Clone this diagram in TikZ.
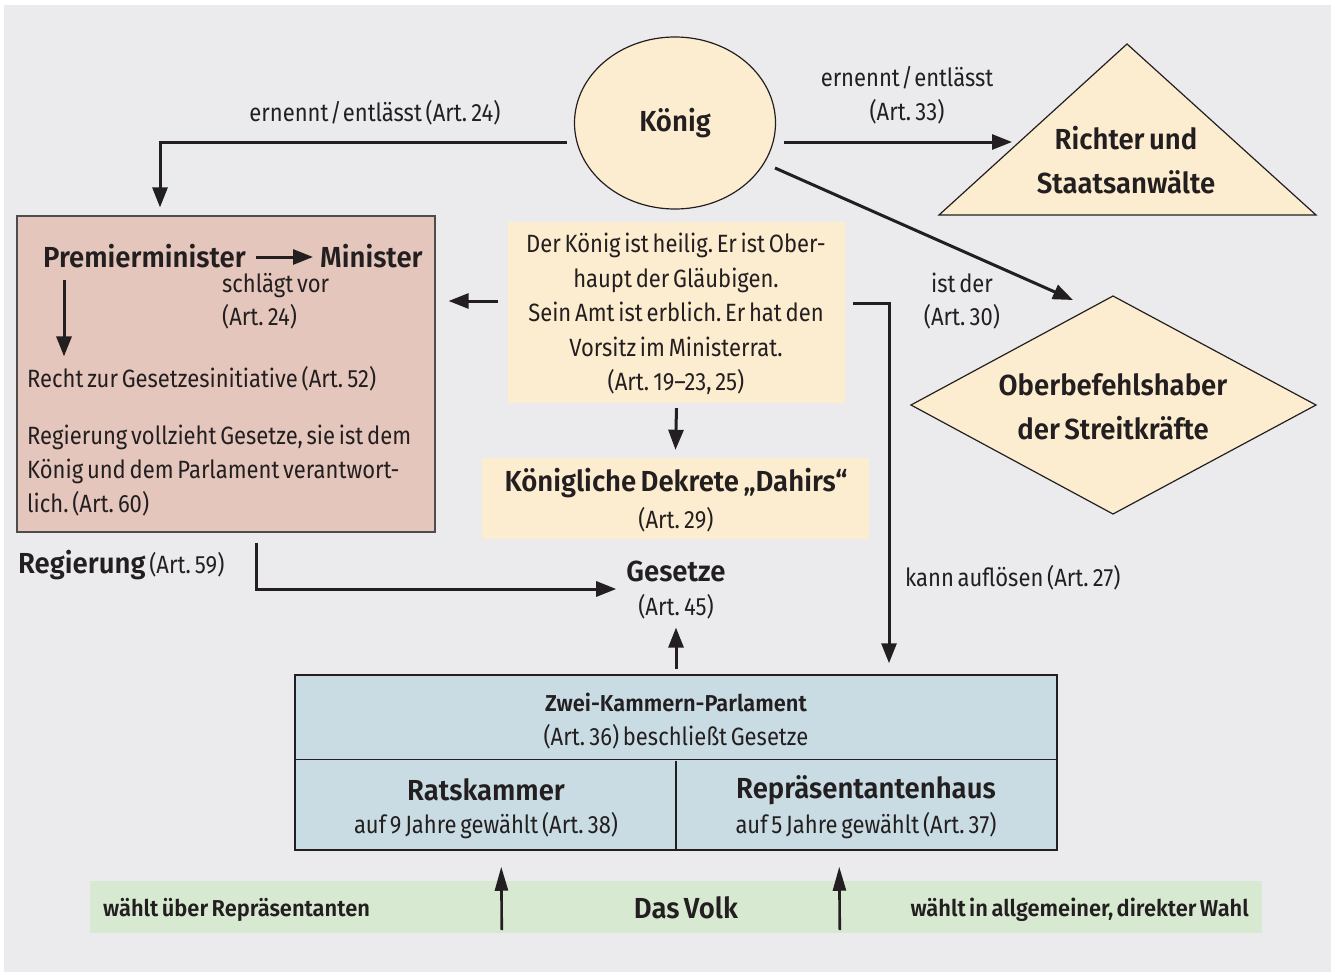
\documentclass[tikz,border=0pt]{standalone}
\usepackage{fontspec}
\setmainfont{Fira Sans}[FakeStretch=0.88, WordSpace=0.65, BoldFont={Fira Sans SemiBold}, BoldFeatures={FakeStretch=0.95}]
\usetikzlibrary{arrows.meta,calc,shapes.geometric}
\definecolor{bg}{HTML}{EBEBED}
\definecolor{ink}{HTML}{231F20}
\definecolor{cream}{HTML}{FDEDD0}
\definecolor{pinkbox}{HTML}{E5C6BC}
\definecolor{bluebox}{HTML}{C9DCE3}
\definecolor{greenband}{HTML}{D8E9D2}
\frenchspacing
\newcommand\ftreg{\fontsize{25}{34.5}\selectfont}
\newcommand\ftbold{\fontsize{29}{44}\selectfont\bfseries}
\newcommand\ftking{\fontsize{29}{36}\selectfont\bfseries}
\newcommand\slsh{\kern1.5pt/\kern1.5pt}
\tikzset{
  txt/.style={inner sep=0pt, text=ink, font=\ftreg},
  arr/.style={draw=ink, line width=3pt, -{Triangle[length=20pt,width=15pt]}},
  uparr/.style={draw=ink, line width=2.6pt, -{Triangle[length=24pt,width=13pt]}},
  shapeline/.style={draw=ink, line width=1.2pt, fill=cream},
}
\begin{document}
\begin{tikzpicture}[x=1pt,y=-1pt]
\useasboundingbox (0,0) rectangle (1335,974);
\fill[bg] (4,5) rectangle (1331,972);

% King
\node[ellipse, shapeline, minimum width=201pt, minimum height=172pt, inner sep=0pt, text=ink, font=\ftking] (koenig) at (675,123) {König};

% Triangle
\draw[shapeline] (1127,44) -- (1316,215) -- (939,215) -- cycle;
\coordinate (triL) at (1012,142);
\node[txt, font=\ftbold, align=center] (richter) at (1126,160) {Richter und\\Staatsanwälte};

% Diamond
\draw[shapeline] (1113,296) -- (1316,405) -- (1113,514) -- (911,405) -- cycle;
\coordinate (diaTop) at (1113,296);
\node[txt, font=\ftbold, align=center] (ober) at (1113,407) {Oberbefehlshaber\\der Streitkräfte};

% Regierung box
\node[draw=ink!80, line width=1.2pt, fill=pinkbox, minimum width=418pt, minimum height=316pt, inner sep=0pt] (reg) at (226,374) {};
\node[txt, font=\ftbold, anchor=base west] (pm) at (43,267) {Premierminister};
\node[txt, font=\ftbold, anchor=base west] (mini) at (320,267) {Minister};
\node[txt, anchor=north west, align=left, font=\fontsize{25}{33}\selectfont] (schlaegt) at (222,273) {schlägt vor\\(Art.\,24)};
\node[txt, anchor=west] (recht) at (27,379) {Recht zur Gesetzesinitiative (Art.\,52)};
\node[txt, anchor=west, align=left, font=\fontsize{25}{34}\selectfont] (vollz) at (27,471) {Regierung vollzieht Gesetze, sie ist dem\\König und dem Parlament verantwort-\\lich. (Art.\,60)};
\node[txt, anchor=west] (reglabel) at (18,565) {{\ftbold Regierung} {\fontsize{25}{28}\selectfont(Art.\,59)}};

% Info box
\node[fill=cream, minimum width=337pt, minimum height=181pt, inner sep=0pt] (info) at (676.5,312.5) {};
\node[txt, align=center] (infotext) at (676,314) {Der König ist heilig. Er ist Ober-\\haupt der Gläubigen.\\Sein Amt ist erblich. Er hat den\\Vorsitz im Ministerrat.\\(Art.\,19--23, 25)};

% Dekrete box
\node[fill=cream, minimum width=387pt, minimum height=81pt, inner sep=0pt] (dekr) at (675.5,498.5) {};
\node[txt, font=\ftbold] (dekrt) at (676,483) {Königliche Dekrete „Dahirs“};
\node[txt] (dekra) at (676,520) {(Art.\,29)};

% Gesetze
\node[txt, font=\ftbold] (gesetze) at (676,571) {Gesetze};
\node[txt] (gesa) at (676,607) {(Art.\,45)};

% Parliament
\node[draw=ink, line width=1.5pt, fill=bluebox, minimum width=762pt, minimum height=175pt, inner sep=0pt] (parl) at (676,762.5) {};
\draw[ink, line width=1.5pt] ($(parl.north west)+(0,85)$) -- ($(parl.north east)+(0,85)$);
\draw[ink, line width=1.5pt] ($(parl.south)+(0,-90)$) -- (parl.south);
\node[txt, font=\fontsize{23}{28}\selectfont\bfseries] (zk) at (676,702) {Zwei-Kammern-Parlament};
\node[txt] (zka) at (676,737) {(Art.\,36) beschließt Gesetze};
\node[txt, font=\fontsize{29}{36}\selectfont\bfseries] (rats) at (486,790) {Ratskammer};
\node[txt] (ratsa) at (486,826) {auf 9 Jahre gewählt (Art.\,38)};
\node[txt, font=\fontsize{29}{36}\selectfont\bfseries] (rep) at (866,790) {Repräsentantenhaus};
\node[txt] (repa) at (866,826) {auf 5 Jahre gewählt (Art.\,37)};

% Volk band
\node[fill=greenband, minimum width=1172pt, minimum height=52pt, inner sep=0pt] (band) at (676,907) {};
\node[txt, font=\fontsize{23}{26}\selectfont\bfseries, anchor=west] (w1) at (103,910) {wählt über Repräsentanten};
\node[txt, font=\fontsize{29}{36}\selectfont\bfseries] (volk) at (686,908) {Das Volk};
\node[txt, font=\fontsize{23}{26}\selectfont\bfseries, anchor=east] (w2) at (1249,910) {wählt in allgemeiner, direkter Wahl};

% Labels
\node[txt] (l24) at (375,113) {ernennt\slsh entlässt (Art.\,24)};
\node[txt, align=center, font=\fontsize{25}{34}\selectfont] (l33) at (907,95) {ernennt\slsh entlässt\\(Art.\,33)};
\node[txt, align=center, font=\fontsize{25}{33}\selectfont] (l30) at (962,301) {ist der\\(Art.\,30)};
\node[txt, anchor=west] (l27) at (905,578) {kann auflösen (Art.\,27)};

% Connectors
\draw[arr] ($(koenig.west)+(-7,19)$) -| ($(reg.north)+(-66,-8)$);
\draw[arr] ($(koenig.east)+(8,19)$) -- (triL);
\draw[arr] ($(koenig.center)+(100,45)$) -- ($(diaTop)+(-40,4)$);
\draw[arr] ($(pm.base east)+(10,-10)$) -- ($(mini.base west)+(-7,-10)$);
\draw[arr] ($(pm.south west)+(21,12)$) -- ($(recht.north west)+(37,-10)$);
\draw[arr] ($(info.west)+(-10,-11.5)$) -- ($(reg.east)+(13,-73)$);
\draw[arr] ($(info.east)+(8,-9.5)$) -| ($(parl.north)+(213,-11)$);
\draw[arr] ($(info.south)+(0,5)$) -- ($(dekr.north)+(0,-8)$);
\draw[arr] ($(reg.south)+(30,10)$) |- ($(gesetze.west)+(-10,18)$);
\draw[arr] ($(parl.north)+(0,-5)$) -- ($(gesa.south)+(0,8)$);
\draw[uparr] ($(band.south west)+(412,-3)$) -- ($(parl.south west)+(207,16)$);
\draw[uparr] ($(band.south west)+(750,-3)$) -- ($(parl.south west)+(545,16)$);
\end{tikzpicture}
\end{document}
